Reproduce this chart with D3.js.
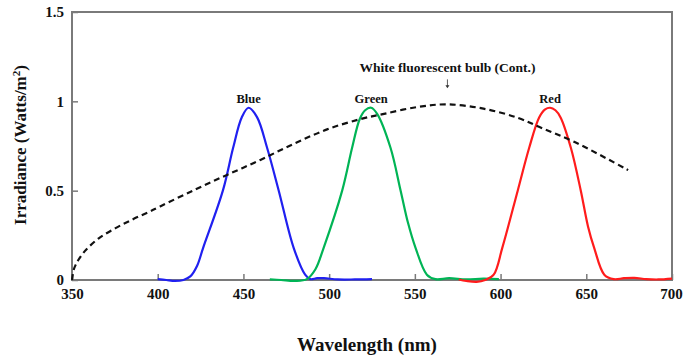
<!DOCTYPE html>
<html>
  <head>
    <title>Irradiance</title>
    <script src="https://cdn.jsdelivr.net/npm/d3@7"></script>
    <style>
      body { margin: 0; background: #fff; }
      text { font-family: "Liberation Serif", "Times New Roman", serif; font-weight: bold; fill: #111; }
    </style>
  </head>
  <body>
    <svg width="683" height="360" id="mainsvg"></svg>
    <script>
      // values (nm, W/m2)
      const blueNm  = [400, 405, 410, 415, 419, 423, 426.5, 438, 444, 449, 453, 458, 463.8, 470.6, 479.3, 486, 489, 493, 497, 505, 515, 525];
      const blueVal = [0.005, 0, -0.005, 0, 0.02, 0.08, 0.18, 0.5, 0.74, 0.91, 0.964, 0.91, 0.74, 0.5, 0.18, 0.03, 0.005, 0.01, 0.01, 0.003, 0.003, 0.005];

      const greenNm  = [465.4, 472, 480, 487, 492, 496.8, 507.6, 513.4, 517.8, 521, 524.5, 528, 535.8, 541.7, 546, 550.4, 557, 562, 570, 580, 590, 599];
      const greenVal = [0.003, 0, -0.005, 0.005, 0.06, 0.18, 0.5, 0.74, 0.9, 0.95, 0.964, 0.93, 0.74, 0.5, 0.32, 0.18, 0.03, 0.005, 0.01, 0.003, 0.008, 0.005];

      const redNm  = [575.6, 580, 586, 591, 596, 601, 610, 616.7, 622.5, 626, 628.9, 632, 635, 641, 646.8, 651, 654.6, 660.5, 666, 672, 678, 685, 692, 700];
      const redVal = [0.003, -0.005, -0.01, 0, 0.03, 0.18, 0.5, 0.74, 0.91, 0.955, 0.964, 0.95, 0.91, 0.74, 0.5, 0.3, 0.18, 0.03, 0.005, 0.01, 0.012, 0.005, 0.003, 0.008];

      const bulbNm  = [350, 351, 352.2, 353.7, 357.6, 365.4, 375.1, 384.9, 394.6, 401.4, 420.9, 440.4, 459.9, 479.3, 498.8, 518, 532, 551.4, 569, 590, 610, 624.4, 642.9, 674.4];
      const bulbVal = [0, 0.058, 0.086, 0.112, 0.163, 0.232, 0.289, 0.337, 0.38, 0.412, 0.502, 0.588, 0.672, 0.762, 0.843, 0.9, 0.93, 0.968, 0.983, 0.959, 0.908, 0.849, 0.774, 0.615];

      const xTicks = [350, 400, 450, 500, 550, 600, 650, 700];
      const yTicks = [0, 0.5, 1, 1.5];
      const yTickLabels = ['0', '0.5', '1', '1.5'];

      const peakNames = ['Blue', 'Green', 'Red'];
      const bulbName = 'White fluorescent bulb (Cont.)';

      const svg = d3.select('#mainsvg');
      const width = +svg.attr('width');
      const height = +svg.attr('height');
      const margin = {top: 12, right: 11, bottom: 80, left: 72};
      const innerWidth = width - margin.left - margin.right;
      const innerHeight = height - margin.top - margin.bottom;

      const xScale = d3.scaleLinear().domain([350, 700]).range([0, innerWidth]);
      const yScale = d3.scaleLinear().domain([0, 1.5]).range([innerHeight, 0]);

      const g = svg.append('g')
        .attr('transform', `translate(${margin.left}, ${margin.top})`);

      // axes, ticks point inward
      const xAxis = d3.axisBottom(xScale)
        .tickValues(xTicks)
        .tickSizeInner(-6).tickSizeOuter(0)
        .tickPadding(8);
      const yAxis = d3.axisLeft(yScale)
        .tickValues(yTicks)
        .tickFormat((d, i) => yTickLabels[i])
        .tickSizeInner(-6).tickSizeOuter(0)
        .tickPadding(8);

      const xAxisGroup = g.append('g')
        .attr('transform', `translate(0, ${innerHeight})`)
        .call(xAxis);
      const yAxisGroup = g.append('g').call(yAxis);

      [xAxisGroup, yAxisGroup].forEach(ax => {
        ax.attr('font-family', null).attr('font-size', null);
        ax.select('.domain').remove();
        ax.selectAll('line').attr('stroke', '#7a7a7a').attr('stroke-width', 1.5);
        ax.selectAll('text')
          .attr('fill', '#111')
          .style('font-size', '15px');
      });
      // keep the last label inside the picture
      xAxisGroup.selectAll('.tick:last-of-type text').attr('dx', -1);

      // frame
      g.append('rect')
        .attr('x', 0).attr('y', 0)
        .attr('width', innerWidth).attr('height', innerHeight)
        .attr('fill', 'none')
        .attr('stroke', '#7a7a7a')
        .attr('stroke-width', 2);

      const line = d3.line()
        .x(d => xScale(d[0]))
        .y(d => yScale(d[1]))
        .curve(d3.curveCatmullRom.alpha(0.5));

      const series = [
        {nm: blueNm, val: blueVal, color: '#2020f0'},
        {nm: greenNm, val: greenVal, color: '#00b455'},
        {nm: redNm, val: redVal, color: '#ff1c1c'}
      ];

      series.forEach((s, i) => {
        const pts = s.nm.map((n, j) => [n, s.val[j]]);
        g.append('path')
          .datum(pts)
          .attr('d', line)
          .attr('fill', 'none')
          .attr('stroke', s.color)
          .attr('stroke-width', 2.2);

        // label above the peak
        const peak = d3.greatest(pts, d => d[1]);
        g.append('text')
          .attr('x', xScale(peak[0]))
          .attr('y', yScale(peak[1]) - 5)
          .attr('text-anchor', 'middle')
          .style('font-size', '12.5px')
          .text(peakNames[i]);
      });

      // dashed bulb curve
      const bulbPts = bulbNm.map((n, j) => [n, bulbVal[j]]);
      g.append('path')
        .datum(bulbPts)
        .attr('d', line)
        .attr('fill', 'none')
        .attr('stroke', '#111')
        .attr('stroke-width', 2.2)
        .attr('stroke-dasharray', '6,4');

      const bulbPeak = d3.greatest(bulbPts, d => d[1]);
      const bx = xScale(bulbPeak[0]);
      const by = yScale(bulbPeak[1]);
      g.append('text')
        .attr('x', bx)
        .attr('y', by - 32)
        .attr('text-anchor', 'middle')
        .style('font-size', '13.5px')
        .text(bulbName);
      g.append('line')
        .attr('x1', bx).attr('x2', bx)
        .attr('y1', by - 25).attr('y2', by - 18)
        .attr('stroke', '#333').attr('stroke-width', 0.8);
      g.append('path')
        .attr('d', `M${bx - 2},${by - 19}L${bx + 2},${by - 19}L${bx},${by - 16}Z`)
        .attr('fill', '#333');

      // axis titles
      svg.append('text')
        .attr('x', margin.left + 295)
        .attr('y', 351)
        .attr('text-anchor', 'middle')
        .style('font-size', '19px')
        .text('Wavelength (nm)');

      const yLabel = svg.append('text')
        .attr('transform', `translate(26, 145) rotate(-90)`)
        .attr('text-anchor', 'middle')
        .style('font-size', '17px');
      yLabel.append('tspan').text('Irradiance (Watts/m');
      yLabel.append('tspan').attr('dy', -6).style('font-size', '11px').text('2');
      yLabel.append('tspan').attr('dy', 6).text(')');
    </script>
  </body>
</html>
